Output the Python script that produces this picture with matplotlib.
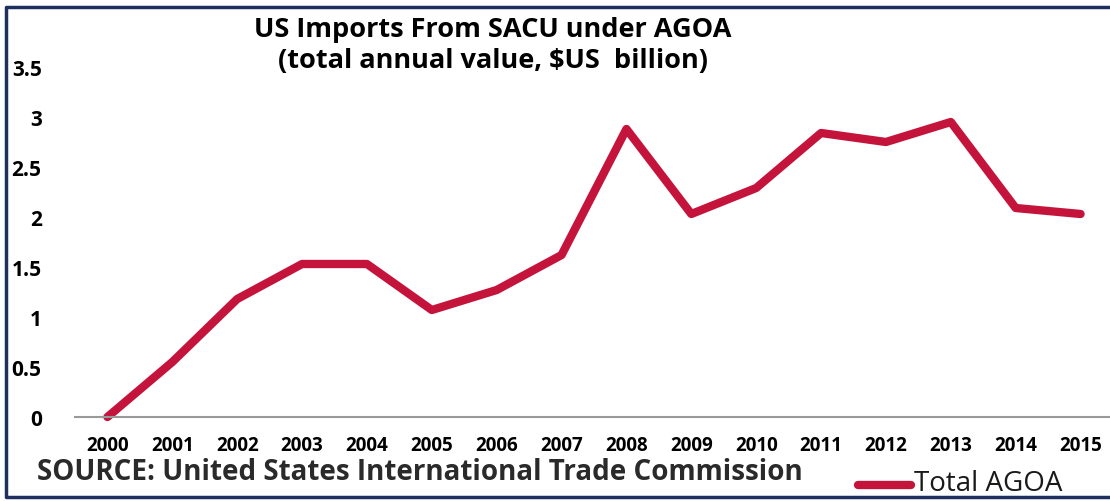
import matplotlib
matplotlib.use("Agg")
import matplotlib.pyplot as plt
from matplotlib.lines import Line2D

# data
years = ['2000', '2001', '2002', '2003', '2004', '2005', '2006', '2007',
         '2008', '2009', '2010', '2011', '2012', '2013', '2014', '2015']
total_agoa = [0, 0.55, 1.18, 1.53, 1.53, 1.07, 1.27, 1.62,
              2.88, 2.03, 2.29, 2.84, 2.75, 2.95, 2.09, 2.03]
y_ticks = [0, 0.5, 1, 1.5, 2, 2.5, 3, 3.5]
y_labels = ['0', '0.5', '1', '1.5', '2', '2.5', '3', '3.5']

plt.rcParams['font.family'] = ['Open Sans', 'DejaVu Sans']

W, H = 1110, 502
fig = plt.figure(figsize=(W / 100, H / 100), dpi=100)
ax = fig.add_axes([75 / W, 1 - 418 / H, 1038 / W, 350 / H])

line_color = '#C4143C'
ax.plot(range(len(years)), total_agoa, color=line_color, lw=6,
        solid_joinstyle='round', solid_capstyle='round', clip_on=False)

ax.set_xlim(-0.5, len(years) - 0.5)
ax.set_ylim(0, 3.5)
ax.set_xticks(range(len(years)))
ax.set_xticklabels(years, fontsize=13.5, fontweight='bold')
ax.set_yticks(y_ticks)
ax.set_yticklabels(y_labels, fontsize=15, fontweight='bold')
ax.tick_params(axis='x', length=0, pad=13)
ax.tick_params(axis='y', length=0, pad=24)

for s in ['top', 'right', 'left']:
    ax.spines[s].set_visible(False)
ax.spines['bottom'].set_color('#999999')
ax.spines['bottom'].set_linewidth(1.5)

# title
fig.text(493 / W, 1 - 30 / H, 'US Imports From SACU under AGOA',
         ha='center', va='center', fontsize=19.5, fontweight='bold')
fig.text(493 / W, 1 - 61 / H, '(total annual value, $US  billion)',
         ha='center', va='center', fontsize=19.5, fontweight='bold')

# source note
fig.text(37 / W, 1 - 473 / H, 'SOURCE: United States International Trade Commission',
         ha='left', va='center', fontsize=20, fontweight='bold', color='#2a2a2a')

# legend drawn by hand in the bottom right corner
fig.add_artist(Line2D([858 / W, 911 / W], [1 - 486 / H, 1 - 486 / H],
                      color=line_color, lw=6, solid_capstyle='round'))
fig.text(914 / W, 1 - 484 / H, 'Total AGOA', ha='left', va='center',
         fontsize=20, color='#1a1a1a')

# navy frame (open on the right like the original)
navy = '#1F2F5F'
fig.add_artist(Line2D([W / W, 6 / W, 6 / W, W / W],
                      [1 - 8 / H, 1 - 8 / H, 1 - 498 / H, 1 - 498 / H],
                      color=navy, lw=2.5))

plt.savefig('out.png', dpi=100)
